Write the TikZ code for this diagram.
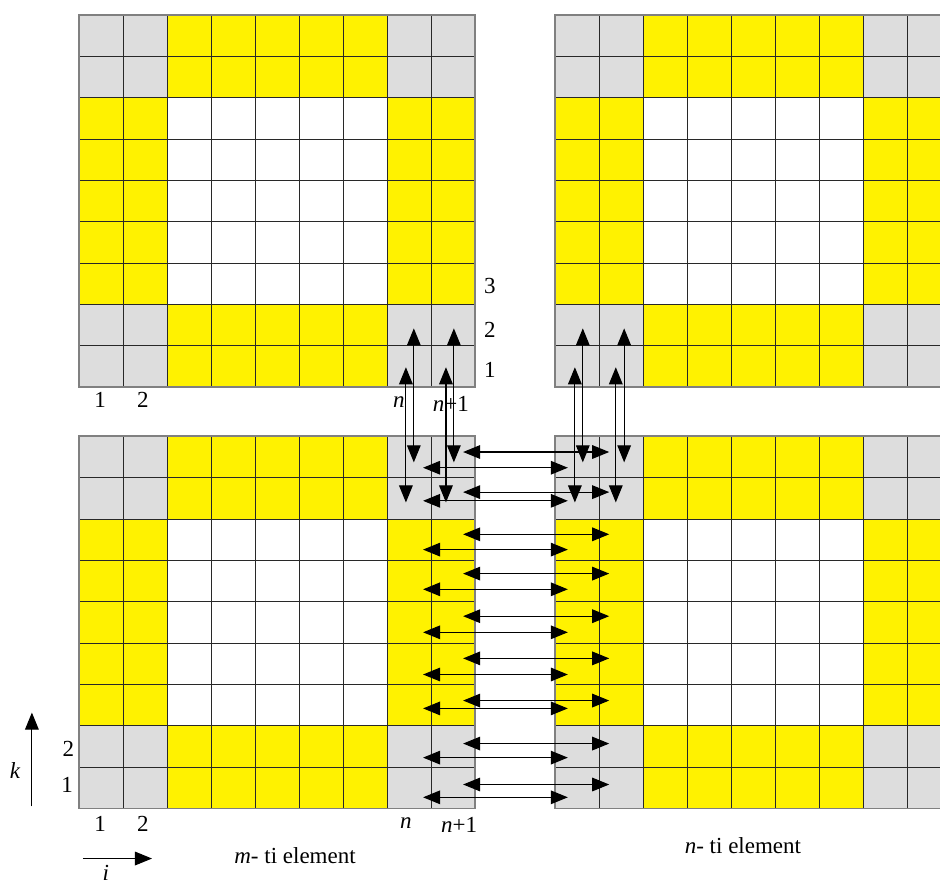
\documentclass[tikz,border=0pt]{standalone}
\usepackage{fontspec}
\setmainfont{Liberation Serif}
\usetikzlibrary{arrows.meta}
\definecolor{cellgray}{RGB}{221,221,221}
\definecolor{cellyellow}{RGB}{255,242,0}
\definecolor{gridline}{RGB}{40,40,40}
\definecolor{gridedge}{RGB}{128,128,128}
\tikzset{
  link/.style={black,line width=0.55pt,{Triangle[length=3mm,width=2.4mm]}-{Triangle[length=3mm,width=2.4mm]}},
  axis/.style={black,line width=0.55pt,-{Triangle[length=3mm,width=2.4mm]}},
  lbl/.style={font=\fontsize{11.5}{13}\selectfont,inner sep=0pt},
}
\begin{document}
\begin{tikzpicture}[x=0.773cm,y=0.7265cm]
    \clip (-1.795,-1.815) rectangle (19.568,19.55);
    % the four elements
    \foreach \gx/\gy in {0/0, 0/10.19, 10.82/0, 10.82/10.19} {
      \begin{scope}[shift={(\gx,\gy)}]
        \fill[cellyellow] (0,0) rectangle (9,9);
        \fill[white] (2,2) rectangle (7,7);
        \foreach \cx/\cy in {0/0, 7/0, 0/7, 7/7}
          \fill[cellgray] (\cx,\cy) rectangle ++(2,2);
        \foreach \l in {1,...,8} {
          \draw[gridline,line width=0.4pt] (\l,0) -- (\l,9);
          \draw[gridline,line width=0.4pt] (0,\l) -- (9,\l);
        }
        \draw[gridedge,line width=0.8pt] (0,0) rectangle (9,9);
      \end{scope}
    }
    % vertical exchange between upper and lower elements
    \foreach \xa/\xb [count=\v] in {7.43/7.61, 8.34/8.52, 11.27/11.45, 12.20/12.39} {
      \coordinate (up\v a) at (\xa,10.67);
      \coordinate (dn\v a) at (\xa,7.40);
      \coordinate (up\v b) at (\xb,11.61);
      \coordinate (dn\v b) at (\xb,8.37);
      \draw[link] (dn\v a) -- (up\v a);
      \draw[link] (dn\v b) -- (up\v b);
    }
    % horizontal exchange between m and n
    \foreach \yu/\yl [count=\h] in {8.62/8.24, 7.65/7.44, 6.63/6.26, 5.68/5.30, 4.65/4.26, 3.63/3.24, 2.61/2.42, 1.57/1.23, 0.58/0.27} {
      \coordinate (hl\h) at (8.73,\yu);
      \coordinate (hr\h) at (12.05,\yu);
      \coordinate (gl\h) at (7.82,\yl);
      \coordinate (gr\h) at (11.11,\yl);
      \draw[link] (hl\h) -- (hr\h);
      \draw[link] (gl\h) -- (gr\h);
    }
    % indices of the upper element
    \node[lbl] (tk3) at (9.34,12.63) {3};
    \node[lbl] (tk2) at (9.34,11.57) {2};
    \node[lbl] (tk1) at (9.34,10.60) {1};
    \node[lbl] (ti1) at (0.48,9.87) {1};
    \node[lbl] (ti2) at (1.45,9.87) {2};
    \node[lbl] (tin) at (7.27,9.82) {\textit{n}};
    \node[lbl] (tin1) at (8.45,9.79) {\textit{n}+1};
    % indices of the lower element
    \node[lbl] (bk2) at (-0.24,1.45) {2};
    \node[lbl] (bk1) at (-0.27,0.56) {1};
    \node[lbl] (bi1) at (0.48,-0.38) {1};
    \node[lbl] (bi2) at (1.45,-0.38) {2};
    \node[lbl] (bin) at (7.43,-0.35) {\textit{n}};
    \node[lbl] (bin1) at (8.64,-0.40) {\textit{n}+1};
    % axes
    \coordinate (k0) at (-1.07,0.05);
    \coordinate (k1) at (-1.07,2.32);
    \draw[axis] (k0) -- (k1);
    \node[lbl] (klbl) at (-1.45,0.92) {\textit{k}};
    \coordinate (i0) at (0.09,-1.21);
    \coordinate (i1) at (1.66,-1.21);
    \draw[axis] (i0) -- (i1);
    \node[lbl] (ilbl) at (0.61,-1.56) {\textit{i}};
    % captions
    \node[lbl] (mcap) at (4.91,-1.14) {\textit{m}- ti element};
    \node[lbl] (ncap) at (15.09,-0.90) {\textit{n}- ti element};
\end{tikzpicture}
\end{document}
